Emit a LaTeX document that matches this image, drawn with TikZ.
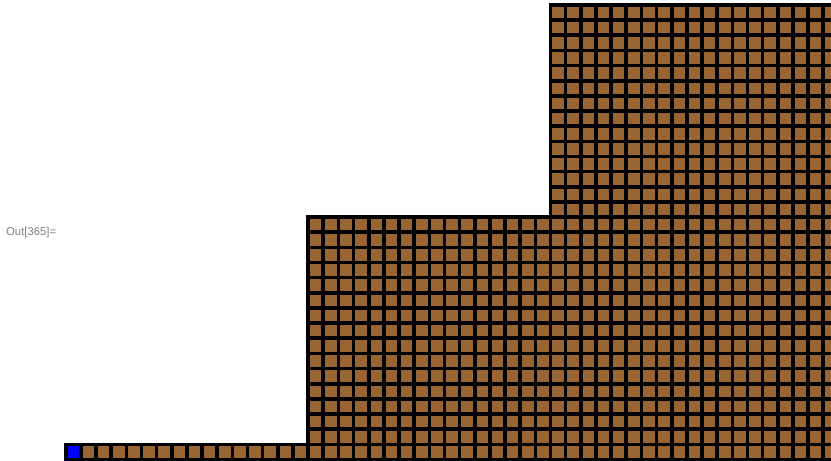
\documentclass[tikz,border=0pt]{standalone}
\usepackage{fontspec}
\setsansfont{Liberation Sans}
\usepackage{tikz}
\definecolor{cellbrown}{RGB}{153,102,51}
\definecolor{outgray}{RGB}{128,128,128}

\begin{document}
\begin{tikzpicture}[x=1pt,y=1pt, cell/.style={draw=black,fill=cellbrown,line width=3.6pt}, startcell/.style={cell,fill=blue}]
\useasboundingbox (0,0) rectangle (831,461);
\clip (0,0) rectangle (831,461);
\node[anchor=west,inner sep=0pt,text=outgray,font=\sffamily\fontsize{11.3}{13}\selectfont] (label) at (6,228) {Out[365]=};
\begin{scope}[shift={(65.7pt,1.5pt)},x=15.15pt,y=15.15pt]
% bottom row
\foreach \i in {1,...,15} \draw[cell] (\i,0) rectangle ++(1,1);
% middle block
\foreach \i in {16,...,31} \foreach \j in {0,...,15} \draw[cell] (\i,\j) rectangle ++(1,1);
% tall block
\foreach \i in {32,...,50} \foreach \j in {0,...,29} \draw[cell] (\i,\j) rectangle ++(1,1);
\draw[startcell] (0,0) rectangle ++(1,1);
\end{scope}
\end{tikzpicture}
\end{document}
